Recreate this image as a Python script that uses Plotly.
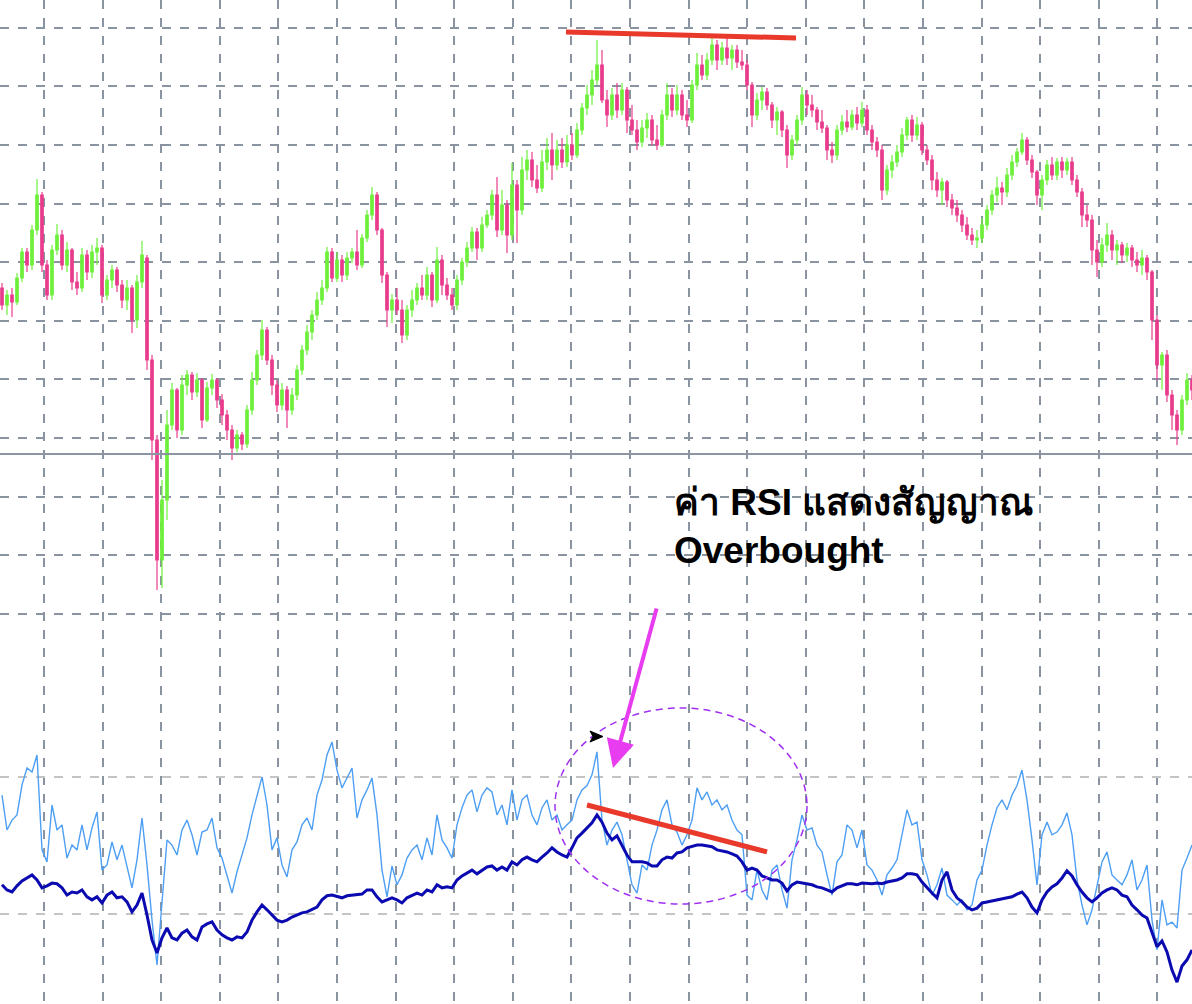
import plotly.graph_objects as go

# ---------------- data (price in arbitrary points, RSI 0-100) ----------------
opens = [712,695,705,698,722,748,735,770,805,735, 705,750,765,735,750,718,712,745,728,748,
         752,705,720,730,715,700,712,680,718,742, 640,560,440,500,575,610,570,615,625,608,
         620,580,612,620,600,585,570,552,565,556, 590,620,645,670,640,615,595,610,590,605,
         630,650,668,685,700,712,748,722,740,725, 742,748,735,762,785,805,770,725,690,700,
         690,665,690,700,712,705,725,700,740,715, 705,695,720,738,752,768,752,775,785,805,
         770,795,765,815,790,830,840,820,812,838, 850,835,850,838,855,845,870,892,905,920,
         935,900,885,905,890,910,880,870,858,872, 880,860,855,885,905,890,905,885,880,915,
         935,925,940,955,940,952,942,950,938,935, 915,885,900,908,895,880,888,870,845,860,
         880,905,895,890,878,872,850,845,870,878, 873,885,877,890,870,858,850,810,830,838,
         848,865,880,865,875,850,840,820,810,818, 800,792,785,775,765,760,762,775,790,805,
         812,808,825,838,848,860,840,828,805,820, 835,825,838,830,838,820,808,785,780,750,
         738,755,765,750,755,745,752,740,735,742, 728,680,635,645,605,585,570,600,620]
highs = [717,710,712,727,752,752,775,821,808,740, 755,776,770,758,752,728,752,750,755,762,
         755,725,735,733,720,720,715,725,759,745, 645,565,520,590,617,612,625,630,628,627,
         622,618,626,622,606,590,575,570,568,595, 628,650,680,673,645,620,617,614,612,635,
         655,675,690,708,720,753,752,748,745,748, 752,770,766,790,813,808,772,728,706,712,
         700,695,710,717,725,733,728,753,745,722, 712,725,742,758,773,772,783,790,810,823,
         810,800,837,820,843,850,848,835,850,862, 867,860,862,865,867,877,897,915,930,960,
         950,910,912,917,917,913,895,880,880,887, 885,875,890,917,912,915,910,900,920,947,
         945,947,963,960,958,962,955,955,950,940, 918,907,913,912,898,893,890,875,865,885,
         913,910,905,893,890,875,858,875,885,890, 890,893,898,895,875,863,855,835,845,855,
         872,883,885,883,878,855,845,828,822,820, 806,800,790,783,772,770,782,795,810,823,
         818,832,845,852,867,863,845,830,825,840, 843,842,843,842,843,825,812,795,785,760,
         762,777,770,760,758,757,755,748,750,745, 730,685,648,650,610,590,605,627,625]
lows = [690,685,683,695,718,728,730,765,728,700, 700,745,730,728,710,705,708,720,722,735,
        697,700,712,708,692,690,667,672,712,630, 540,410,412,480,570,562,565,605,600,603,
        572,578,605,592,575,560,540,548,550,552, 585,615,640,635,605,588,590,572,585,600,
        625,645,660,680,695,708,718,718,718,720, 737,730,732,758,780,765,717,673,677,685,
        657,660,683,695,700,700,693,697,705,700, 690,690,715,733,748,740,748,772,780,763,
        765,747,760,757,785,820,813,807,808,830, 820,830,832,833,840,842,865,885,895,915,
        897,873,880,882,885,867,865,850,853,862, 855,850,853,880,883,885,880,873,877,910,
        920,920,935,930,935,935,930,932,930,910, 873,880,890,890,872,865,863,832,840,855,
        875,885,883,870,867,840,837,840,865,868, 870,870,873,865,850,843,800,805,822,833,
        843,860,858,860,845,835,810,803,795,793, 785,778,768,760,755,752,757,770,785,798,
        795,803,820,833,845,835,822,795,790,815, 820,820,822,825,815,803,773,773,735,723,
        733,748,740,735,737,738,733,728,725,720, 660,620,610,598,570,555,565,595,600]
closes = [695,705,698,722,748,735,770,805,735,705, 750,765,735,750,718,712,745,728,748,752,
          705,720,730,715,700,712,680,718,745,640, 560,440,500,575,610,570,615,625,608,620,
          580,612,620,600,585,570,552,565,556,590, 620,645,670,640,615,595,610,590,605,630,
          650,668,685,700,712,748,722,740,725,742, 748,735,762,785,805,770,725,690,700,690,
          665,690,700,712,705,725,700,740,715,705, 695,720,738,752,768,752,775,785,805,770,
          795,765,815,790,830,840,820,812,838,850, 835,850,838,855,845,870,892,905,920,935,
          900,885,905,890,910,880,870,858,872,880, 860,855,885,905,890,905,885,880,915,935,
          925,940,955,940,952,942,950,938,935,915, 885,900,908,895,880,888,870,845,860,880,
          905,895,890,878,872,850,845,870,878,873, 885,877,890,870,858,850,810,830,838,848,
          865,880,865,875,850,840,820,810,818,800, 792,785,775,765,760,762,775,790,805,812,
          808,825,838,848,860,840,828,805,820,835, 825,838,830,838,820,808,785,780,750,738,
          755,765,750,755,745,752,740,735,742,728, 680,635,645,605,585,570,600,620,610]

rsi_fast = [64.7,54.5,57.4,58.9,67.7,72.6,71.4,76.4,48.7,45.2, 61.8,54.5,56.0,46.3,50.1,48.7,56.0,48.7,55.1,59.8,
            42.8,44.3,51.0,45.8,50.1,43.4,37.6,45.8,58.0,44.3, 28.2,15.1,32.6,51.6,50.1,47.2,54.5,57.4,53.1,47.2,
            53.9,54.5,58.0,49.3,46.3,41.4,36.1,42.3,47.2,52.2, 58.9,64.7,70.0,61.8,48.7,52.2,44.3,40.8,48.7,51.0,
            56.0,58.0,54.5,64.7,69.1,76.4,80.2,72.0,66.8,69.7, 72.6,58.0,63.3,66.2,69.7,58.9,42.8,35.0,44.0,38.5,
            41.4,46.3,48.7,50.1,45.8,52.2,47.2,58.9,51.6,49.3, 46.3,56.0,61.0,64.7,66.2,59.8,64.7,66.8,65.6,58.9,
            61.8,56.0,66.2,57.4,63.3,64.7,58.9,56.0,61.0,63.3, 57.4,58.9,54.5,56.0,57.4,63.3,66.2,67.5,70.6,77.3,
            57.4,50.1,54.5,56.8,53.1,45.8,38.5,36.1,44.3,42.8, 50.1,54.5,60.4,63.3,56.0,53.9,50.1,53.1,57.4,66.8,
            63.3,65.6,61.8,63.3,60.4,61.8,57.4,54.5,53.1,35.5, 34.1,42.8,37.0,34.1,42.8,44.3,37.0,31.7,45.8,51.6,
            58.9,54.5,55.1,50.1,48.1,41.4,35.5,45.2,47.2,56.0, 54.5,49.3,54.5,44.3,42.8,39.9,35.5,41.4,43.4,45.8,
            53.1,60.4,56.0,56.8,45.8,41.4,35.5,38.5,43.4,35.5, 34.1,32.6,34.1,31.2,32.6,39.9,42.8,50.1,56.0,61.0,
            63.3,60.4,64.7,67.5,72.0,63.3,51.6,38.5,53.1,56.8, 53.1,53.9,56.0,59.5,53.1,39.9,32.6,26.8,31.2,38.5,
            45.2,48.1,41.4,39.9,38.5,41.4,45.8,37.0,39.9,44.3, 28.2,19.5,34.1,26.8,27.6,25.9,42.8,46.3,50.1]
rsi_slow = [38.5,37.0,36.4,38.2,39.6,40.5,41.4,39.9,37.6,38.2, 39.0,38.8,37.6,35.5,36.4,36.1,37.0,35.0,34.1,35.0,
            33.2,35.5,36.4,34.7,35.0,33.5,30.6,32.6,36.1,29.7, 22.4,18.6,23.0,25.9,23.0,22.4,24.4,25.3,23.3,22.4,
            26.2,27.1,27.7,25.3,23.9,23.0,22.4,23.3,23.0,24.7, 28.2,30.6,32.6,31.2,29.7,28.2,27.7,28.2,29.1,29.7,
            30.3,30.6,31.2,32.0,34.1,35.3,35.5,35.0,34.7,35.3, 35.5,35.8,35.8,37.0,37.0,35.0,33.5,34.1,34.7,34.1,
            33.2,34.7,35.5,36.1,35.5,37.0,36.4,38.5,37.6,37.9, 37.6,39.9,41.1,42.0,42.8,41.7,42.8,43.7,44.0,42.8,
            43.7,42.8,45.2,44.3,45.8,46.6,45.8,45.2,46.6,47.8, 49.3,48.1,47.2,46.6,49.3,52.2,53.6,55.1,56.6,58.9,
            56.8,53.6,51.6,52.8,50.1,47.2,45.2,45.2,45.2,44.9, 44.0,44.0,45.8,46.6,46.3,47.8,48.1,49.3,49.6,50.1,
            50.1,49.9,49.6,48.7,48.4,48.1,47.5,46.9,45.2,42.8, 43.4,42.8,41.1,40.5,39.9,39.9,39.0,36.7,38.5,39.3,
            39.0,38.8,38.5,37.9,37.6,37.0,36.4,37.6,38.2,38.8, 38.8,38.5,39.0,38.8,38.8,39.0,38.8,39.3,39.6,39.9,
            40.5,41.7,41.7,41.4,39.3,37.6,36.1,34.7,39.9,42.3, 37.0,34.7,33.5,32.0,31.2,31.7,33.2,33.5,33.8,34.1,
            34.4,34.7,35.0,35.8,36.4,34.7,32.0,30.3,34.1,36.4, 37.9,38.8,40.5,42.6,41.1,38.5,36.4,34.7,33.5,34.7,
            36.1,37.0,37.6,37.0,35.5,35.0,32.6,31.2,29.7,28.8, 24.7,20.4,22.1,18.9,13.6,10.1,14.8,16.6,19.5]

rsi_levels = [30, 70]
current_price = 546
top_line = {"bars": [112.8, 158.8], "prices": [968, 962]}
rsi_line = {"bars": [117, 153], "values": [61.8, 48.1]}
note_text = "<b>ค่า RSI แสดงสัญญาณ<br>Overbought</b>"

bars = list(range(len(closes)))

# ---------------- styling ----------------
W, H = 1192, 1004
GREEN = "#6ef03c"
PINK = "#e83c8c"
GRID = "#8a94a1"
LEVEL = "#c4c4c4"
split = 1 - 668 / H


def px(x):
    return x / W


def py(y):
    return 1 - y / H


fig = go.Figure()
fig.add_trace(go.Candlestick(
    x=bars, open=opens, high=highs, low=lows, close=closes,
    increasing=dict(line=dict(color=GREEN, width=1.2), fillcolor=GREEN),
    decreasing=dict(line=dict(color=PINK, width=1.2), fillcolor=PINK),
    whiskerwidth=0, xaxis="x", yaxis="y", showlegend=False, hoverinfo="skip"))
fig.add_trace(go.Scatter(x=bars, y=rsi_fast, mode="lines",
                         line=dict(color="#4e9ff3", width=1.4),
                         xaxis="x2", yaxis="y2", showlegend=False))
fig.add_trace(go.Scatter(x=bars, y=rsi_slow, mode="lines",
                         line=dict(color="#0a0ab0", width=3),
                         xaxis="x2", yaxis="y2", showlegend=False))

xcommon = dict(range=[-0.4, 238], showgrid=True, gridcolor=GRID, griddash="dash",
               gridwidth=1.5, tick0=8.4, dtick=11.72, showticklabels=False,
               zeroline=False, showline=False, ticks="")

fig.update_layout(
    width=W, height=H, margin=dict(l=0, r=0, t=0, b=0),
    paper_bgcolor="white", plot_bgcolor="white", boxgap=0.3,
    showlegend=False,
    xaxis=dict(domain=[0, 1], anchor="y", rangeslider=dict(visible=False), **xcommon),
    xaxis2=dict(domain=[0, 1], anchor="y2", matches="x", **xcommon),
    yaxis=dict(domain=[split, 1], range=[332, 1000], showgrid=True, gridcolor=GRID,
               griddash="dash", gridwidth=1.5, tick0=972.3, dtick=58.6,
               showticklabels=False, zeroline=False, ticks=""),
    yaxis2=dict(domain=[0, split], range=[3.7, 101.8], showgrid=True, gridcolor=LEVEL,
                griddash="dash", gridwidth=1.5, tickvals=rsi_levels,
                showticklabels=False, zeroline=False, ticks=""),
)

# current price line
fig.add_shape(type="line", xref="paper", x0=0, x1=1, yref="y",
              y0=current_price, y1=current_price, line=dict(color="#8c96a2", width=2))
# red trend lines
fig.add_shape(type="line", xref="x", yref="y", x0=top_line["bars"][0], x1=top_line["bars"][1],
              y0=top_line["prices"][0], y1=top_line["prices"][1],
              line=dict(color="#e8392b", width=5))
fig.add_shape(type="line", xref="x2", yref="y2", x0=rsi_line["bars"][0], x1=rsi_line["bars"][1],
              y0=rsi_line["values"][0], y1=rsi_line["values"][1],
              line=dict(color="#e8392b", width=5))
# dashed ellipse
fig.add_shape(type="circle", xref="paper", yref="paper",
              x0=px(555), x1=px(807), y0=py(904), y1=py(708),
              line=dict(color="#a030f0", width=1.5, dash="7px,5px"))
# small black arrow marker
fig.add_shape(type="path", xref="paper", yref="paper",
              path=f"M {px(590)},{py(731)} L {px(603)},{py(736.5)} L {px(590)},{py(742)} L {px(593)},{py(736.5)} Z",
              fillcolor="black", line=dict(color="black", width=1))
# magenta arrow
fig.add_annotation(xref="paper", yref="paper", x=px(613), y=py(768), ax=44, ay=-161,
                   text="", showarrow=True, arrowhead=2, arrowsize=1.4, arrowwidth=4,
                   arrowcolor="#e83cf0")
# text
fig.add_annotation(xref="paper", yref="paper", x=px(672), y=py(480), xanchor="left",
                   yanchor="top", align="left", showarrow=False, text=note_text,
                   font=dict(family="Liberation Sans, Arial, Noto Sans, sans-serif",
                             size=37, color="black"))

fig.write_html("out.html", config={"displayModeBar": False},
               post_script="document.body.style.margin='0';document.body.style.overflow='hidden';")
